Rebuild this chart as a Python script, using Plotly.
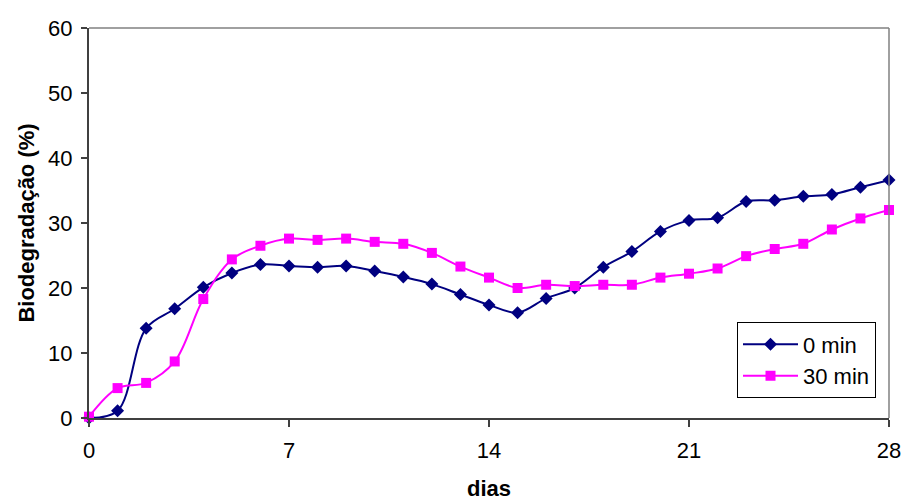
import plotly.graph_objects as go

dias = list(range(0, 29))
min0 = [0.0, 1.1, 13.8, 16.8, 20.1, 22.3, 23.6, 23.4, 23.2, 23.4, 22.6, 21.7, 20.6, 19.0, 17.4,
        16.2, 18.4, 20.0, 23.2, 25.6, 28.7, 30.4, 30.8, 33.3, 33.5, 34.1, 34.4, 35.5, 36.6]
min30 = [0.2, 4.6, 5.4, 8.7, 18.3, 24.4, 26.5, 27.6, 27.4, 27.6, 27.1, 26.8, 25.4, 23.3, 21.6,
         20.0, 20.5, 20.3, 20.5, 20.5, 21.6, 22.2, 23.0, 24.9, 26.0, 26.8, 29.0, 30.7, 32.0]
x_ticks = [0, 7, 14, 21, 28]
y_ticks = [0, 10, 20, 30, 40, 50, 60]

font = "Liberation Sans, Arial, sans-serif"
FS = 22

fig = go.Figure()
fig.add_trace(go.Scatter(
    x=dias, y=min0, name="0 min", mode="lines+markers",
    line=dict(color="#000080", width=2, shape="spline", smoothing=1),
    marker=dict(symbol="diamond", size=10, color="#000080"),
    cliponaxis=False,
))
fig.add_trace(go.Scatter(
    x=dias, y=min30, name="30 min", mode="lines+markers",
    line=dict(color="#FF00FF", width=2, shape="spline", smoothing=1),
    marker=dict(symbol="square", size=10, color="#FF00FF"),
    cliponaxis=False,
))

# gray plot-area frame on top and right
fig.add_shape(type="line", xref="paper", yref="paper", x0=0, x1=1, y0=1, y1=1,
              line=dict(color="#808080", width=1.5))
fig.add_shape(type="line", xref="paper", yref="paper", x0=1, x1=1, y0=0, y1=1,
              line=dict(color="#808080", width=1.5))

fig.update_layout(
    width=903, height=502,
    margin=dict(l=89, r=14, t=28, b=84),
    paper_bgcolor="white", plot_bgcolor="white",
    font=dict(family=font, size=FS, color="black"),
    showlegend=True,
    legend=dict(
        x=0.81, y=0.245, xanchor="left", yanchor="top",
        bgcolor="white", bordercolor="black", borderwidth=1,
        font=dict(size=FS), tracegroupgap=0, itemwidth=55,
    ),
    xaxis=dict(
        range=[0, 28], tickvals=x_ticks, ticktext=[str(v) for v in x_ticks],
        showgrid=False, zeroline=False, showline=True, linecolor="#404040", linewidth=2,
        ticks="outside", ticklen=7, tickcolor="#404040", tickwidth=1.5,
        ticklabelstandoff=5, automargin=False,
        title=dict(text="<b>dias</b>", font=dict(size=FS), standoff=18),
    ),
    yaxis=dict(
        range=[0, 60], tickvals=y_ticks, ticktext=[str(v) for v in y_ticks],
        showgrid=False, zeroline=False, showline=True, linecolor="#404040", linewidth=2,
        ticks="outside", ticklen=6, tickcolor="#404040", tickwidth=1.5,
        ticklabelstandoff=4, automargin=False,
        title=dict(text="<b>Biodegradação (%)</b>", font=dict(size=FS), standoff=7),
    ),
)

fig.write_html(
    "out.html",
    config={"displayModeBar": False},
    post_script="document.body.style.margin='0';document.body.style.overflow='hidden';",
)
